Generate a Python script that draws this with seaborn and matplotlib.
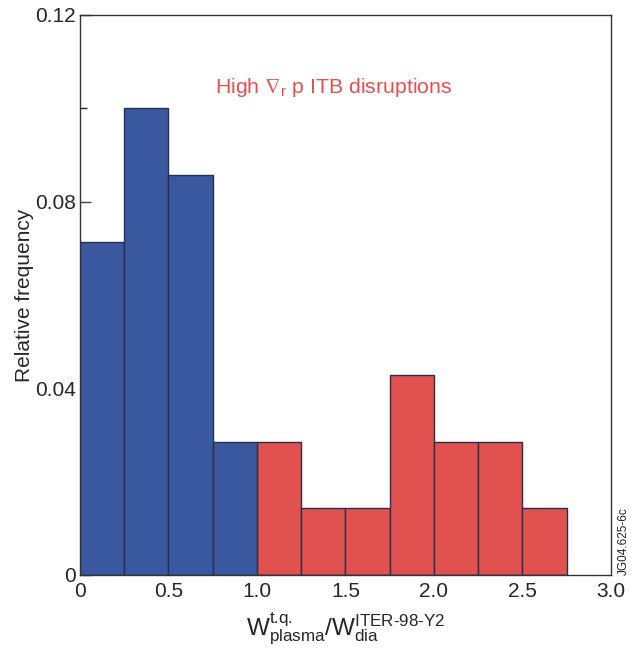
import matplotlib
matplotlib.use("Agg")
import matplotlib.pyplot as plt
import seaborn as sns
import numpy as np
import pandas as pd

# Data
bin_left = [0.0, 0.25, 0.5, 0.75, 1.0, 1.25, 1.5, 1.75, 2.0, 2.25, 2.5]
rel_freq = [0.0714, 0.1000, 0.0857, 0.0286, 0.0286, 0.0143, 0.0143, 0.0429, 0.0286, 0.0286, 0.0143]
group = ["low", "low", "low", "low", "high", "high", "high", "high", "high", "high", "high"]
bin_width = 0.25
x_ticks = [0, 0.5, 1.0, 1.5, 2.0, 2.5, 3.0]
x_tick_labels = ["0", "0.5", "1.0", "1.5", "2.0", "2.5", "3.0"]
y_ticks = [0, 0.04, 0.08, 0.12]
y_tick_labels = ["0", "0.04", "0.08", "0.12"]

sns.set_theme(style="white")
plt.rcParams["font.family"] = ["Liberation Sans", "DejaVu Sans"]
plt.rcParams["mathtext.fontset"] = "custom"
plt.rcParams["mathtext.rm"] = "Liberation Sans"
plt.rcParams["mathtext.it"] = "Liberation Sans"
plt.rcParams["mathtext.fallback"] = "stixsans"

df = pd.DataFrame({
    "x": [b + bin_width / 2 for b in bin_left],
    "w": rel_freq,
    "g": group,
})
edges = [b for b in bin_left] + [bin_left[-1] + bin_width]

fig = plt.figure(figsize=(6.43, 6.52), dpi=100)
ax = fig.add_axes([0.1244, 0.1181, 0.8258, 0.8589])

sns.histplot(data=df, x="x", weights="w", bins=edges, hue="g",
             palette={"low": "#3a589f", "high": "#e0514f"},
             alpha=1.0, edgecolor="#27304a", linewidth=1.0,
             legend=False, ax=ax)

ax.set_xlim(0, 3.0)
ax.set_ylim(0, 0.12)
ax.set_xticks(x_ticks)
ax.set_xticklabels(x_tick_labels, fontsize=15)
ax.set_yticks(y_ticks)
ax.set_yticklabels(y_tick_labels, fontsize=15)
ax.set_yticks([0.02, 0.06, 0.10], minor=True)
ax.tick_params(axis="y", which="major", direction="in", length=8, width=1, color="#444444", left=True, pad=3)
ax.tick_params(axis="y", which="minor", direction="in", length=5, width=1, color="#222222", left=True)
ax.tick_params(axis="x", which="both", length=0, pad=5)

for s in ax.spines.values():
    s.set_color("#333333")
    s.set_linewidth(1.0)

ax.set_ylabel("Relative frequency", fontsize=15, labelpad=1)
ax.set_xlabel(r"$\mathregular{W_{plasma}^{\text{t.q.}}/W_{dia}^{ITER\text{-}98\text{-}Y2}}$", fontsize=17.5, labelpad=7)

ax.text(1.435, 0.1045, r"High $\mathregular{\nabla_r}$ p ITB disruptions", color="#e0514f",
        fontsize=15.3, ha="center", va="center")

fig.text(0.9705, 0.118, "JG04.625-6c", rotation=90, fontsize=8.5, ha="center", va="bottom", color="#222222")

fig.savefig("out.png", dpi=100)
